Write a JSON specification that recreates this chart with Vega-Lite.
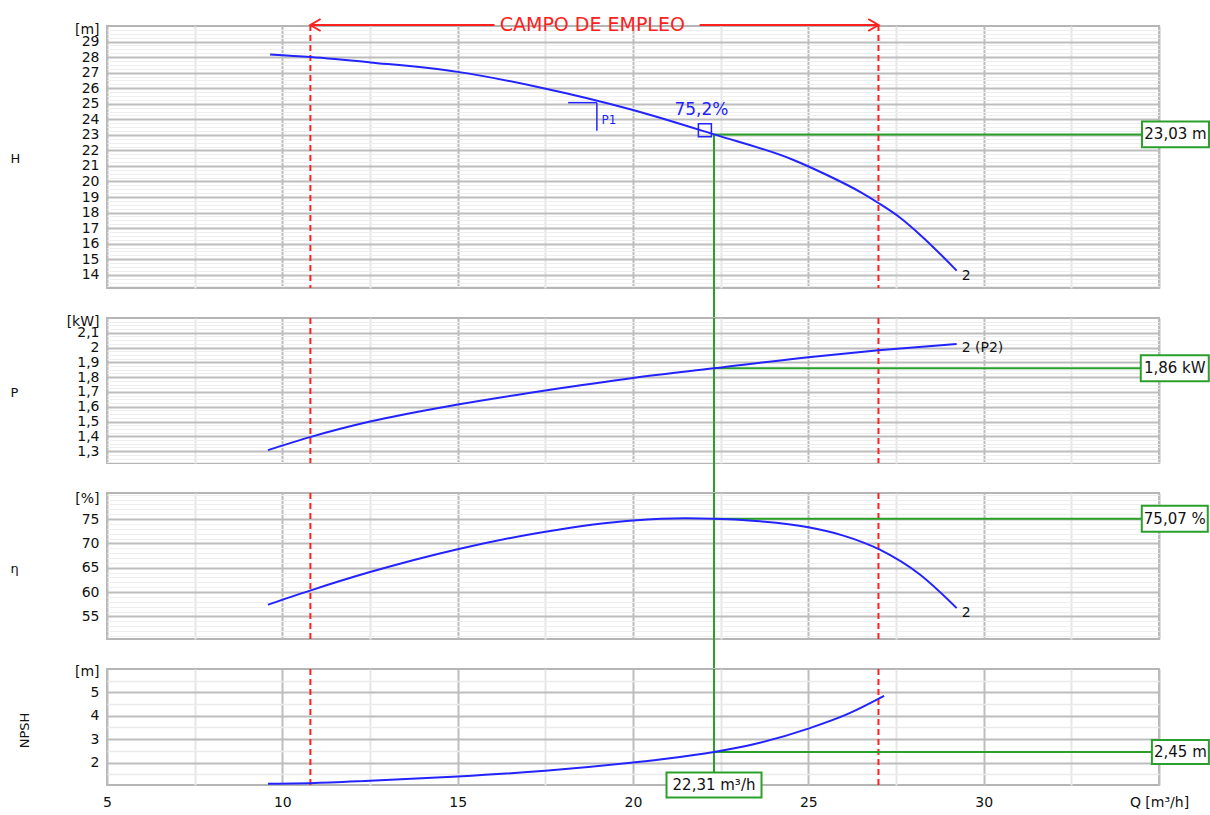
{
  "$schema": "https://vega.github.io/schema/vega-lite/v6.json",
  "background": "white",
  "padding": {"left": 8, "top": 13, "right": 0, "bottom": 0},
  "autosize": {"type": "pad"},
  "spacing": 30,
  "bounds": "flush",
  "config": {
    "font": "DejaVu Sans",
    "view": {"stroke": "#b5b5b5", "strokeWidth": 2},
    "axis": {
      "grid": true,
      "labelFont": "DejaVu Sans", "labelFontSize": 14, "labelColor": "#111111",
      "ticks": false, "tickSize": 0, "domain": false, "labelFlush": false, "labelOverlap": false, "labelBound": false,
      "labelPadding": 8, "titleFont": "DejaVu Sans", "titleFontSize": 13, "titleFontWeight": "normal", "titleColor": "#111111",
      "gridColor": "#bdbdbd", "gridWidth": 2
    }
  },
  "datasets": {
    "H": [
      {"Q": 9.65, "v": 28.16}, {"Q": 10.8, "v": 28.0}, {"Q": 12.5, "v": 27.66}, {"Q": 15, "v": 27.05},
      {"Q": 17.35, "v": 26.05}, {"Q": 20, "v": 24.6}, {"Q": 22.31, "v": 23.03}, {"Q": 24.56, "v": 21.4},
      {"Q": 25.5, "v": 20.45}, {"Q": 26.5, "v": 19.3}, {"Q": 27.01, "v": 18.6}, {"Q": 27.6, "v": 17.7},
      {"Q": 28.2, "v": 16.55}, {"Q": 29.23, "v": 14.27}
    ],
    "P": [
      {"Q": 9.59, "v": 1.307}, {"Q": 10.79, "v": 1.395}, {"Q": 12.5, "v": 1.5}, {"Q": 15, "v": 1.615},
      {"Q": 17.5, "v": 1.71}, {"Q": 20, "v": 1.795}, {"Q": 22.31, "v": 1.86}, {"Q": 25, "v": 1.935},
      {"Q": 27, "v": 1.982}, {"Q": 29.23, "v": 2.025}
    ],
    "E": [
      {"Q": 9.59, "v": 57.4}, {"Q": 10.79, "v": 60.3}, {"Q": 12.5, "v": 64.1}, {"Q": 15, "v": 68.8},
      {"Q": 17.5, "v": 72.4}, {"Q": 20, "v": 74.7}, {"Q": 21.5, "v": 75.15}, {"Q": 22.31, "v": 75.07},
      {"Q": 23.5, "v": 74.6}, {"Q": 25, "v": 73.3}, {"Q": 26, "v": 71.6}, {"Q": 27.04, "v": 68.7},
      {"Q": 28.18, "v": 63.6}, {"Q": 29.23, "v": 56.7}
    ],
    "N": [
      {"Q": 9.59, "v": 1.09}, {"Q": 10.8, "v": 1.12}, {"Q": 12.5, "v": 1.22}, {"Q": 15, "v": 1.4},
      {"Q": 17.5, "v": 1.65}, {"Q": 20, "v": 2.0}, {"Q": 21, "v": 2.17},
      {"Q": 22.31, "v": 2.45}, {"Q": 23.5, "v": 2.8}, {"Q": 25, "v": 3.45}, {"Q": 26.16, "v": 4.1},
      {"Q": 27.16, "v": 4.85}
    ],
    "range": [{"Q": 10.8, "dir": "l"}, {"Q": 27.0, "dir": "r"}],
    "arrowline": [{"Q1": 10.8, "Q2": 16.05}, {"Q1": 21.9, "Q2": 27.0}],
    "op": [{"Q": 22.31, "H": 23.03, "P": 1.86, "E": 75.07, "N": 2.45, "tH": "23,03 m", "tP": "1,86 kW", "tE": "75,07 %", "tN": "2,45 m", "tQ": "22,31 m³/h"}],
    "bep": [{"Q": 22.05, "H": 23.3, "QT": 21.95, "HT": 24.6, "t": "75,2%"}],
    "p1": [{"Q1": 18.15, "Q2": 18.97, "H1": 25.07, "H2": 23.27, "QT": 19.1, "HT": 23.95, "t": "P1"}]
  },
  "vconcat": [
    {
      "width": 1052, "height": 262,
      "layer": [
        {
          "data": {"name": "H"},
          "mark": {"type": "line", "opacity": 0},
          "encoding": {
            "x": {"field": "Q", "type": "quantitative", "scale": {"domain": [5, 35], "nice": false, "zero": false},
              "axis": {"orient": "bottom", "grid": true, "values": [7.5, 12.5, 17.5, 22.5, 27.5, 32.5], "labels": false, "title": null, "gridColor": "#e6e6e6", "gridWidth": 2}},
            "y": {"field": "v", "type": "quantitative", "scale": {"domain": [13.15, 30], "nice": false, "zero": false},
              "axis": {"orient": "left", "grid": true, "values": [13.25,13.5,13.75,14.25,14.5,14.75,15.25,15.5,15.75,16.25,16.5,16.75,17.25,17.5,17.75,18.25,18.5,18.75,19.25,19.5,19.75,20.25,20.5,20.75,21.25,21.5,21.75,22.25,22.5,22.75,23.25,23.5,23.75,24.25,24.5,24.75,25.25,25.5,25.75,26.25,26.5,26.75,27.25,27.5,27.75,28.25,28.5,28.75,29.25,29.5,29.75], "labels": false, "title": null, "gridColor": "#eeeeee", "gridWidth": 1}}
          }
        },
        {
          "data": {"name": "range"},
          "mark": {"type": "rule", "color": "#ff2020", "strokeWidth": 2, "strokeDash": [6, 4]},
          "encoding": {
            "x": {"field": "Q", "type": "quantitative", "axis": null},
            "y": {"datum": 30.065, "type": "quantitative", "axis": null},
            "y2": {"datum": 13.15}
          }
        },
        {
          "data": {"name": "arrowline"},
          "mark": {"type": "rule", "color": "#ff2020", "strokeWidth": 2},
          "encoding": {
            "x": {"field": "Q1", "type": "quantitative", "axis": null},
            "x2": {"field": "Q2"},
            "y": {"datum": 30.065, "type": "quantitative", "axis": null}
          }
        },
        {
          "data": {"name": "range"},
          "mark": {"type": "point", "filled": false, "color": "#ff2020", "strokeWidth": 2, "size": 144, "opacity": 1},
          "encoding": {
            "x": {"field": "Q", "type": "quantitative", "axis": null},
            "y": {"datum": 30.065, "type": "quantitative", "axis": null},
            "shape": {"field": "dir", "type": "nominal", "scale": {"domain": ["l", "r"], "range": ["M1.7,-1L0,0L1.7,1", "M-1.7,-1L0,0L-1.7,1"]}, "legend": null}
          }
        },
        {
          "data": {"values": [{"t": "CAMPO DE EMPLEO"}]},
          "mark": {"type": "text", "color": "#ff2020", "fontSize": 19, "align": "center", "baseline": "middle"},
          "encoding": {
            "x": {"datum": 18.84, "type": "quantitative", "axis": null},
            "y": {"datum": 30.065, "type": "quantitative", "axis": null},
            "text": {"field": "t"}
          }
        },
        {
          "data": {"name": "op"},
          "mark": {"type": "rule", "color": "#2aa02a", "strokeWidth": 2},
          "encoding": {
            "x": {"field": "Q", "type": "quantitative", "axis": null},
            "y": {"field": "H", "type": "quantitative", "axis": null},
            "y2": {"datum": 11.0}
          }
        },
        {
          "data": {"name": "op"},
          "mark": {"type": "rule", "color": "#2aa02a", "strokeWidth": 2},
          "encoding": {
            "x": {"field": "Q", "type": "quantitative", "axis": null},
            "x2": {"datum": 35.4},
            "y": {"field": "H", "type": "quantitative", "axis": null}
          }
        },
        {
          "data": {"name": "H"},
          "mark": {"type": "line", "color": "#2323ff", "strokeWidth": 2, "interpolate": "monotone"},
          "encoding": {
            "x": {"field": "Q", "type": "quantitative", "axis": {"orient": "bottom", "grid": true, "values": [5, 10, 15, 20, 25, 30, 35], "labels": false, "title": null}},
            "y": {"field": "v", "type": "quantitative",
              "axis": {"orient": "left", "grid": true, "values": [14,15,16,17,18,19,20,21,22,23,24,25,26,27,28,29,29.8],
                "labelExpr": "datum.value > 29.5 ? '[m]' : datum.label",
                "gridOpacity": {"condition": {"test": "datum.value > 29.5", "value": 0}, "value": 1},
                "title": "H", "titleAngle": 0, "titleX": -92, "titleY": 132, "titleAlign": "center", "titleBaseline": "middle"}}
          }
        },
        {
          "data": {"name": "p1"},
          "mark": {"type": "rule", "color": "#2323ff", "strokeWidth": 1.5},
          "encoding": {
            "x": {"field": "Q1", "type": "quantitative", "axis": null},
            "x2": {"field": "Q2"},
            "y": {"field": "H1", "type": "quantitative", "axis": null}
          }
        },
        {
          "data": {"name": "p1"},
          "mark": {"type": "rule", "color": "#2323ff", "strokeWidth": 1.5},
          "encoding": {
            "x": {"field": "Q2", "type": "quantitative", "axis": null},
            "y": {"field": "H1", "type": "quantitative", "axis": null},
            "y2": {"field": "H2"}
          }
        },
        {
          "data": {"name": "p1"},
          "mark": {"type": "text", "color": "#2323ff", "fontSize": 12, "align": "left", "baseline": "middle"},
          "encoding": {
            "x": {"field": "QT", "type": "quantitative", "axis": null},
            "y": {"field": "HT", "type": "quantitative", "axis": null},
            "text": {"field": "t"}
          }
        },
        {
          "data": {"name": "bep"},
          "mark": {"type": "point", "shape": "square", "filled": false, "color": "#2323ff", "strokeWidth": 1.5, "size": 169, "opacity": 1},
          "encoding": {
            "x": {"field": "Q", "type": "quantitative", "axis": null},
            "y": {"field": "H", "type": "quantitative", "axis": null}
          }
        },
        {
          "data": {"name": "bep"},
          "mark": {"type": "text", "color": "#2323ff", "fontSize": 17, "align": "center", "baseline": "middle"},
          "encoding": {
            "x": {"field": "QT", "type": "quantitative", "axis": null},
            "y": {"field": "HT", "type": "quantitative", "axis": null},
            "text": {"field": "t"}
          }
        },
        {
          "data": {"name": "H"},
          "transform": [{"filter": "datum.Q > 29"}],
          "mark": {"type": "text", "color": "#111111", "fontSize": 14, "align": "left", "baseline": "middle", "dx": 5, "dy": 5},
          "encoding": {
            "x": {"field": "Q", "type": "quantitative", "axis": null},
            "y": {"field": "v", "type": "quantitative", "axis": null},
            "text": {"value": "2"}
          }
        },
        {
          "data": {"name": "op"},
          "mark": {"type": "point", "shape": "M-1,-0.388H1V0.388H-1Z", "size": 4489, "filled": true, "fill": "white", "stroke": "#2aa02a", "strokeWidth": 2, "opacity": 1},
          "encoding": {
            "x": {"datum": 35.47, "type": "quantitative", "axis": null},
            "y": {"field": "H", "type": "quantitative", "axis": null}
          }
        },
        {
          "data": {"name": "op"},
          "mark": {"type": "text", "color": "#111111", "fontSize": 15, "align": "center", "baseline": "middle"},
          "encoding": {
            "x": {"datum": 35.47, "type": "quantitative", "axis": null},
            "y": {"field": "H", "type": "quantitative", "axis": null},
            "text": {"field": "tH"}
          }
        }
      ],
      "resolve": {"axis": {"x": "independent", "y": "independent"}}
    },
    {
      "width": 1052, "height": 145,
      "layer": [
        {
          "data": {"name": "P"},
          "mark": {"type": "line", "opacity": 0},
          "encoding": {
            "x": {"field": "Q", "type": "quantitative", "scale": {"domain": [5, 35], "nice": false, "zero": false},
              "axis": {"orient": "bottom", "grid": true, "values": [7.5, 12.5, 17.5, 22.5, 27.5, 32.5], "labels": false, "title": null, "gridColor": "#e6e6e6", "gridWidth": 2}},
            "y": {"field": "v", "type": "quantitative", "scale": {"domain": [1.22, 2.2], "nice": false, "zero": false},
              "axis": {"orient": "left", "grid": true, "values": [1.225,1.25,1.275,1.325,1.35,1.375,1.425,1.45,1.475,1.525,1.55,1.575,1.625,1.65,1.675,1.725,1.75,1.775,1.825,1.85,1.875,1.925,1.95,1.975,2.025,2.05,2.075,2.125,2.15,2.175], "labels": false, "title": null, "gridColor": "#eeeeee", "gridWidth": 1}}
          }
        },
        {
          "data": {"name": "range"},
          "mark": {"type": "rule", "color": "#ff2020", "strokeWidth": 2, "strokeDash": [6, 4]},
          "encoding": {"x": {"field": "Q", "type": "quantitative", "axis": null}}
        },
        {
          "data": {"name": "op"},
          "mark": {"type": "rule", "color": "#2aa02a", "strokeWidth": 2},
          "encoding": {
            "x": {"field": "Q", "type": "quantitative", "axis": null},
            "y": {"datum": 2.2, "type": "quantitative", "axis": null},
            "y2": {"datum": 1.0}
          }
        },
        {
          "data": {"name": "op"},
          "mark": {"type": "rule", "color": "#2aa02a", "strokeWidth": 2},
          "encoding": {
            "x": {"field": "Q", "type": "quantitative", "axis": null},
            "x2": {"datum": 35.4},
            "y": {"field": "P", "type": "quantitative", "axis": null}
          }
        },
        {
          "data": {"name": "P"},
          "mark": {"type": "line", "color": "#2323ff", "strokeWidth": 2, "interpolate": "monotone"},
          "encoding": {
            "x": {"field": "Q", "type": "quantitative", "axis": {"orient": "bottom", "grid": true, "values": [5, 10, 15, 20, 25, 30, 35], "labels": false, "title": null}},
            "y": {"field": "v", "type": "quantitative",
              "axis": {"orient": "left", "grid": true, "values": [1.3,1.4,1.5,1.6,1.7,1.8,1.9,2.0,2.1,2.175],
                "labelExpr": "datum.value > 2.15 ? '[kW]' : replace(format(datum.value, '.2~f'), '.', ',')",
                "gridOpacity": {"condition": {"test": "datum.value > 2.15", "value": 0}, "value": 1},
                "title": "P", "titleAngle": 0, "titleX": -93, "titleY": 74, "titleAlign": "center", "titleBaseline": "middle"}}
          }
        },
        {
          "data": {"name": "P"},
          "transform": [{"filter": "datum.Q > 29"}],
          "mark": {"type": "text", "color": "#111111", "fontSize": 14, "align": "left", "baseline": "middle", "dx": 5, "dy": 4},
          "encoding": {
            "x": {"field": "Q", "type": "quantitative", "axis": null},
            "y": {"field": "v", "type": "quantitative", "axis": null},
            "text": {"value": "2 (P2)"}
          }
        },
        {
          "data": {"name": "op"},
          "mark": {"type": "point", "shape": "M-1,-0.382H1V0.382H-1Z", "size": 4624, "filled": true, "fill": "white", "stroke": "#2aa02a", "strokeWidth": 2, "opacity": 1},
          "encoding": {
            "x": {"datum": 35.45, "type": "quantitative", "axis": null},
            "y": {"field": "P", "type": "quantitative", "axis": null}
          }
        },
        {
          "data": {"name": "op"},
          "mark": {"type": "text", "color": "#111111", "fontSize": 15, "align": "center", "baseline": "middle"},
          "encoding": {
            "x": {"datum": 35.45, "type": "quantitative", "axis": null},
            "y": {"field": "P", "type": "quantitative", "axis": null},
            "text": {"field": "tP"}
          }
        }
      ],
      "resolve": {"axis": {"x": "independent", "y": "independent"}}
    },
    {
      "width": 1052, "height": 146,
      "layer": [
        {
          "data": {"name": "E"},
          "mark": {"type": "line", "opacity": 0},
          "encoding": {
            "x": {"field": "Q", "type": "quantitative", "scale": {"domain": [5, 35], "nice": false, "zero": false},
              "axis": {"orient": "bottom", "grid": true, "values": [7.5, 12.5, 17.5, 22.5, 27.5, 32.5], "labels": false, "title": null, "gridColor": "#e6e6e6", "gridWidth": 2}},
            "y": {"field": "v", "type": "quantitative", "scale": {"domain": [50.35, 80.35], "nice": false, "zero": false},
              "axis": {"orient": "left", "grid": true, "values": [51,52,53,54,56,57,58,59,61,62,63,64,66,67,68,69,71,72,73,74,76,77,78,79,80], "labels": false, "title": null, "gridColor": "#eeeeee", "gridWidth": 1}}
          }
        },
        {
          "data": {"name": "range"},
          "mark": {"type": "rule", "color": "#ff2020", "strokeWidth": 2, "strokeDash": [6, 4]},
          "encoding": {"x": {"field": "Q", "type": "quantitative", "axis": null}}
        },
        {
          "data": {"name": "op"},
          "mark": {"type": "rule", "color": "#2aa02a", "strokeWidth": 2},
          "encoding": {
            "x": {"field": "Q", "type": "quantitative", "axis": null},
            "y": {"datum": 80.35, "type": "quantitative", "axis": null},
            "y2": {"datum": 44.0}
          }
        },
        {
          "data": {"name": "op"},
          "mark": {"type": "rule", "color": "#2aa02a", "strokeWidth": 2},
          "encoding": {
            "x": {"field": "Q", "type": "quantitative", "axis": null},
            "x2": {"datum": 35.4},
            "y": {"field": "E", "type": "quantitative", "axis": null}
          }
        },
        {
          "data": {"name": "E"},
          "mark": {"type": "line", "color": "#2323ff", "strokeWidth": 2, "interpolate": "monotone"},
          "encoding": {
            "x": {"field": "Q", "type": "quantitative", "axis": {"orient": "bottom", "grid": true, "values": [5, 10, 15, 20, 25, 30, 35], "labels": false, "title": null}},
            "y": {"field": "v", "type": "quantitative",
              "axis": {"orient": "left", "grid": true, "values": [55, 60, 65, 70, 75, 79.3],
                "labelExpr": "datum.value > 79 ? '[%]' : datum.label",
                "gridOpacity": {"condition": {"test": "datum.value > 79", "value": 0}, "value": 1},
                "title": "η", "titleAngle": 0, "titleX": -93, "titleY": 75, "titleAlign": "center", "titleBaseline": "middle"}}
          }
        },
        {
          "data": {"name": "E"},
          "transform": [{"filter": "datum.Q > 29"}],
          "mark": {"type": "text", "color": "#111111", "fontSize": 14, "align": "left", "baseline": "middle", "dx": 5, "dy": 5},
          "encoding": {
            "x": {"field": "Q", "type": "quantitative", "axis": null},
            "y": {"field": "v", "type": "quantitative", "axis": null},
            "text": {"value": "2"}
          }
        },
        {
          "data": {"name": "op"},
          "mark": {"type": "point", "shape": "M-1,-0.394H1V0.394H-1Z", "size": 4356, "filled": true, "fill": "white", "stroke": "#2aa02a", "strokeWidth": 2, "opacity": 1},
          "encoding": {
            "x": {"datum": 35.45, "type": "quantitative", "axis": null},
            "y": {"field": "E", "type": "quantitative", "axis": null}
          }
        },
        {
          "data": {"name": "op"},
          "mark": {"type": "text", "color": "#111111", "fontSize": 15, "align": "center", "baseline": "middle"},
          "encoding": {
            "x": {"datum": 35.45, "type": "quantitative", "axis": null},
            "y": {"field": "E", "type": "quantitative", "axis": null},
            "text": {"field": "tE"}
          }
        }
      ],
      "resolve": {"axis": {"x": "independent", "y": "independent"}}
    },
    {
      "width": 1052, "height": 116,
      "layer": [
        {
          "data": {"name": "N"},
          "mark": {"type": "line", "opacity": 0},
          "encoding": {
            "x": {"field": "Q", "type": "quantitative", "scale": {"domain": [5, 35], "nice": false, "zero": false},
              "axis": {"orient": "bottom", "grid": true, "values": [7.5, 12.5, 17.5, 22.5, 27.5, 32.5], "labels": false, "title": null, "gridColor": "#e6e6e6", "gridWidth": 2}},
            "y": {"field": "v", "type": "quantitative", "scale": {"domain": [1.04, 6.0], "nice": false, "zero": false},
              "axis": {"orient": "left", "grid": true, "values": [1.5, 2.5, 3.5, 4.5, 5.5], "labels": false, "title": null, "gridColor": "#eaeaea", "gridWidth": 1.5}}
          }
        },
        {
          "data": {"name": "range"},
          "mark": {"type": "rule", "color": "#ff2020", "strokeWidth": 2, "strokeDash": [6, 4]},
          "encoding": {"x": {"field": "Q", "type": "quantitative", "axis": null}}
        },
        {
          "data": {"name": "op"},
          "mark": {"type": "rule", "color": "#2aa02a", "strokeWidth": 2},
          "encoding": {
            "x": {"field": "Q", "type": "quantitative", "axis": null},
            "y": {"datum": 6.0, "type": "quantitative", "axis": null},
            "y2": {"datum": 1.04}
          }
        },
        {
          "data": {"name": "op"},
          "mark": {"type": "rule", "color": "#2aa02a", "strokeWidth": 2},
          "encoding": {
            "x": {"field": "Q", "type": "quantitative", "axis": null},
            "x2": {"datum": 35.5},
            "y": {"field": "N", "type": "quantitative", "axis": null}
          }
        },
        {
          "data": {"name": "N"},
          "mark": {"type": "line", "color": "#2323ff", "strokeWidth": 2, "interpolate": "monotone"},
          "encoding": {
            "x": {"field": "Q", "type": "quantitative",
              "axis": {"orient": "bottom", "grid": true, "values": [5, 10, 15, 20, 25, 30, 35], "labelPadding": 10,
                "labelExpr": "datum.value > 34 ? 'Q [m³/h]' : datum.label", "title": null}},
            "y": {"field": "v", "type": "quantitative",
              "axis": {"orient": "left", "grid": true, "values": [2, 3, 4, 5, 5.88],
                "labelExpr": "datum.value > 5.5 ? '[m]' : datum.label",
                "gridOpacity": {"condition": {"test": "datum.value > 5.5", "value": 0}, "value": 1},
                "title": "NPSH", "titleAngle": 270, "titleX": -83, "titleY": 61, "titleAlign": "center", "titleBaseline": "middle"}}
          }
        },
        {
          "data": {"name": "op"},
          "mark": {"type": "point", "shape": "M-1,-0.42H1V0.42H-1Z", "size": 3249, "filled": true, "fill": "white", "stroke": "#2aa02a", "strokeWidth": 2, "opacity": 1},
          "encoding": {
            "x": {"datum": 35.61, "type": "quantitative", "axis": null},
            "y": {"field": "N", "type": "quantitative", "axis": null}
          }
        },
        {
          "data": {"name": "op"},
          "mark": {"type": "text", "color": "#111111", "fontSize": 15, "align": "center", "baseline": "middle"},
          "encoding": {
            "x": {"datum": 35.61, "type": "quantitative", "axis": null},
            "y": {"field": "N", "type": "quantitative", "axis": null},
            "text": {"field": "tN"}
          }
        },
        {
          "data": {"name": "op"},
          "mark": {"type": "point", "shape": "M-1,-0.263H1V0.263H-1Z", "size": 9025, "filled": true, "fill": "white", "stroke": "#2aa02a", "strokeWidth": 2, "opacity": 1},
          "encoding": {
            "x": {"field": "Q", "type": "quantitative", "axis": null},
            "y": {"datum": 1.04, "type": "quantitative", "axis": null}
          }
        },
        {
          "data": {"name": "op"},
          "mark": {"type": "text", "color": "#111111", "fontSize": 15, "align": "center", "baseline": "middle"},
          "encoding": {
            "x": {"field": "Q", "type": "quantitative", "axis": null},
            "y": {"datum": 1.04, "type": "quantitative", "axis": null},
            "text": {"field": "tQ"}
          }
        }
      ],
      "resolve": {"axis": {"x": "independent", "y": "independent"}}
    }
  ]
}
